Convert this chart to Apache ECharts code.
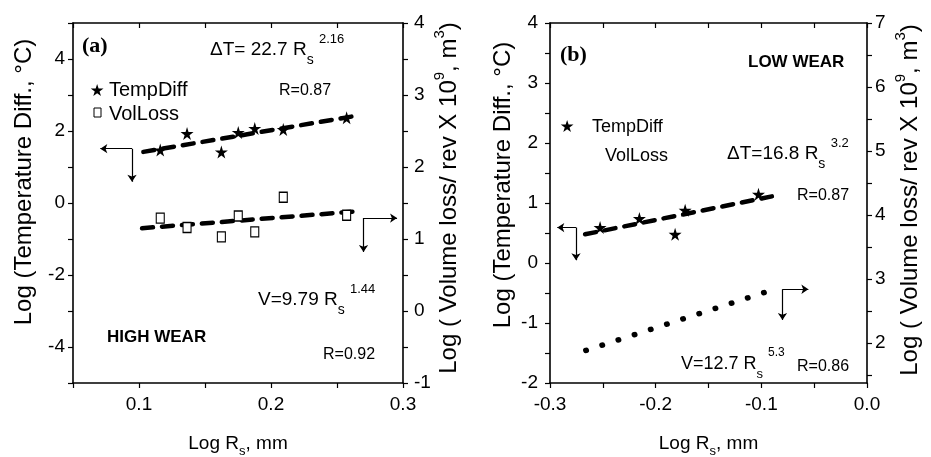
<!DOCTYPE html>
<html><head><meta charset="utf-8">
<script src="https://cdn.jsdelivr.net/npm/echarts@6/dist/echarts.min.js"></script>
<style>html,body{margin:0;padding:0;background:#fff}#c{width:931px;height:457px}</style>
</head><body><div id="c"></div>
<script>
// ---- panel (a): HIGH WEAR ----
const aLogRs = [0.1161, 0.1364, 0.1624, 0.1752, 0.1877, 0.2093, 0.2573];
const aTempDiff = [1.47, 1.93, 1.42, 1.96, 2.07, 2.04, 2.37];
const aVolLoss = [1.29, 1.16, 1.03, 1.32, 1.10, 1.58, 1.33];
const aTempFitX = [0.1033, 0.2675];
const aTempFitY = [1.42, 2.44];
const aVolFitX = [0.1023, 0.2626];
const aVolFitY = [1.15, 1.38];
const aTempArrow = {corner: [0.0947, 1.51], endX: 0.0707, endY: 0.59};
const aVolArrow = {corner: [0.2701, 1.29], endX: 0.2955, endY: 0.82};
// ---- panel (b): LOW WEAR ----
const bLogRs = [-0.2526, -0.2154, -0.1816, -0.1721, -0.1027];
const bTempDiff = [0.59, 0.74, 0.478, 0.878, 1.145];
const bTempFitX = [-0.2668, -0.0900];
const bTempFitY = [0.478, 1.11];
const bVolFitX = [-0.2661, -0.0971];
const bVolFitY = [1.883, 2.79];
const bTempArrow = {corner: [-0.2754, 0.59], endX: -0.2931, endY: 0.045};
const bVolArrow = {corner: [-0.08, 2.84], endX: -0.0555, endY: 2.36};
// ---- axis ticks / labels ----
const aXLabels = [0.1, 0.2, 0.3];
const bXLabels = [-0.3, -0.2, -0.1, 0.0];
const aLeftLabels = [-4, -2, 0, 2, 4];
const bRightTicks = [1.5, 2, 2.5, 3, 3.5, 4, 4.5, 5, 5.5, 6, 6.5, 7];
const bRightLabels = [2, 3, 4, 5, 6, 7];

const NARROW = "'Liberation Sans Narrow','Arial Narrow','Liberation Sans',Arial,sans-serif";
const SANS = "'Liberation Sans',Arial,sans-serif";
const SERIF = "'Liberation Serif','Times New Roman',serif";
const STAR_PTS = [[50,0],[61,35],[98,35],[68,57],[79,91],[50,70],[21,91],[32,57],[2,35],[39,35]];
const STAR = 'path://M' + STAR_PTS.map(p => p.join(',')).join(' L') + ' Z';

const chart = echarts.init(document.getElementById('c'), null, {renderer: 'canvas'});

const near = (v, arr) => arr.some(a => Math.abs(a - v) < 1e-6);
const axLine = {show: true, onZero: false, lineStyle: {color: '#000', width: 1.6}};
const tickOut = {show: true, inside: false, length: 5, lineStyle: {color: '#000', width: 1.2}};
const tickIn = {show: true, inside: true, length: 5, lineStyle: {color: '#000', width: 1.2}};
const lblStyle = {color: '#000', fontSize: 19, fontFamily: NARROW};

function xAx(grid, min, max, labels, pos) {
  const bottom = pos === 'bottom';
  return {
    type: 'value', gridIndex: grid, position: pos, min: min, max: max, interval: 0.05,
    axisLine: axLine, axisTick: bottom ? tickOut : tickIn, splitLine: {show: false},
    axisLabel: bottom ? Object.assign({margin: 12, showMinLabel: true, showMaxLabel: true,
      formatter: v => near(v, labels) ? (Math.abs(v) < 1e-9 ? '0.0' : v.toFixed(1)) : ''}, lblStyle) : {show: false},
    name: bottom ? '{m|Log R}{s|s}{m|, mm}' : '', nameLocation: 'middle', nameGap: 47,
    nameTextStyle: {rich: {
      m: {fontSize: 19, fontFamily: NARROW, color: '#000', lineHeight: 28},
      s: {fontSize: 13, fontFamily: NARROW, color: '#000', lineHeight: 13, verticalAlign: 'bottom'}
    }}
  };
}

const option = {
  animation: false,
  backgroundColor: '#fff',
  grid: [
    {left: 73, top: 23, width: 330, height: 360, containLabel: false, outerBoundsMode: 'none'},
    {left: 550, top: 23, width: 317, height: 360, containLabel: false, outerBoundsMode: 'none'}
  ],
  xAxis: [
    xAx(0, 0.05, 0.3, aXLabels, 'bottom'),
    xAx(0, 0.05, 0.3, aXLabels, 'top'),
    xAx(1, -0.3, 0, bXLabels, 'bottom'),
    xAx(1, -0.3, 0, bXLabels, 'top')
  ],
  yAxis: [
    {type: 'value', gridIndex: 0, position: 'left', min: -5, max: 5, interval: 1,
      axisLine: axLine, axisTick: tickOut, splitLine: {show: false},
      axisLabel: Object.assign({margin: 8, formatter: v => near(v, aLeftLabels) ? String(v) : ''}, lblStyle)},
    {type: 'value', gridIndex: 0, position: 'right', min: -1, max: 4, interval: 0.5,
      axisLine: axLine, axisTick: tickOut, splitLine: {show: false},
      axisLabel: Object.assign({margin: 11, formatter: v => Number.isInteger(v) ? String(v) : ''}, lblStyle)},
    {type: 'value', gridIndex: 1, position: 'left', min: -2, max: 4, interval: 0.5,
      axisLine: axLine, axisTick: tickOut, splitLine: {show: false},
      axisLabel: Object.assign({margin: 12, formatter: v => Number.isInteger(v) ? String(v) : ''}, lblStyle)},
    {type: 'value', gridIndex: 1, position: 'right', min: 1.375, max: 7,
      axisLine: axLine, splitLine: {show: false},
      axisTick: Object.assign({customValues: bRightTicks}, tickOut),
      axisLabel: Object.assign({margin: 8, customValues: bRightLabels}, lblStyle)}
  ],
  series: []
};

const zip = (xs, ys) => xs.map((x, i) => [x, ys[i]]);
const dashStyle = {color: '#000', width: 4.5, type: [11, 9], cap: 'round'};

function fitLine(xi, yi, xs, ys, style) {
  return {type: 'line', xAxisIndex: xi, yAxisIndex: yi, data: zip(xs, ys), symbol: 'none',
    lineStyle: style, silent: true, z: 2};
}
function arrow(xi, yi, a) {
  return {type: 'lines', coordinateSystem: 'cartesian2d', xAxisIndex: xi, yAxisIndex: yi,
    symbol: ['none', 'arrow'], symbolSize: 7, silent: true,
    lineStyle: {color: '#000', width: 1.2, opacity: 1, curveness: 0},
    data: [
      {coords: [a.corner, [a.endX, a.corner[1]]]},
      {coords: [a.corner, [a.corner[0], a.endY]]}
    ]};
}

option.series.push(
  fitLine(0, 0, aTempFitX, aTempFitY, dashStyle),
  fitLine(0, 1, aVolFitX, aVolFitY, dashStyle),
  {type: 'scatter', name: 'TempDiff', xAxisIndex: 0, yAxisIndex: 0, data: zip(aLogRs, aTempDiff),
    symbol: STAR, symbolSize: 13, itemStyle: {color: '#000', opacity: 1}, z: 3},
  {type: 'scatter', name: 'VolLoss', xAxisIndex: 0, yAxisIndex: 1, data: zip(aLogRs, aVolLoss),
    symbol: 'rect', symbolSize: [8, 10], itemStyle: {color: '#fff', borderColor: '#000', borderWidth: 1.2, opacity: 1}, z: 3},
  arrow(0, 0, aTempArrow),
  arrow(0, 1, aVolArrow),
  fitLine(2, 2, bTempFitX, bTempFitY, dashStyle),
  fitLine(2, 3, bVolFitX, bVolFitY, {color: '#000', width: 5.5, type: [0.5, 16.5], cap: 'round'}),
  {type: 'scatter', name: 'TempDiff', xAxisIndex: 2, yAxisIndex: 2, data: zip(bLogRs, bTempDiff),
    symbol: STAR, symbolSize: 13, itemStyle: {color: '#000', opacity: 1}, z: 3},
  arrow(2, 2, bTempArrow),
  arrow(2, 3, bVolArrow)
);

function eq(size, sub, sup) {
  return {
    m: {fontSize: size, fontFamily: NARROW, color: '#000', lineHeight: 34},
    s: {fontSize: sub, fontFamily: NARROW, color: '#000', lineHeight: sub, verticalAlign: 'bottom'},
    p: {fontSize: sup, fontFamily: NARROW, color: '#000', lineHeight: sup, verticalAlign: 'top'}
  };
}
function txt(x, y, text, font, extra) {
  return Object.assign({type: 'text', x: x, y: y, silent: true,
    style: Object.assign({text: text, fill: '#000', align: 'left', verticalAlign: 'middle'}, font)}, extra || {});
}
function starIcon(cx, cy, w, h) {
  return {type: 'polygon', silent: true,
    shape: {points: STAR_PTS.map(p => [cx - w / 2 + p[0] / 98 * w, cy - h / 2 + p[1] / 91 * h])},
    style: {fill: '#000'}};
}
const titleRich = {
  m: {fontSize: 24, fontFamily: SANS, color: '#000', lineHeight: 33},
  p: {fontSize: 15, fontFamily: SANS, color: '#000', lineHeight: 15, verticalAlign: 'top'}
};
function vtitle(x, y, text) {
  return {type: 'text', x: x, y: y, rotation: Math.PI / 2, silent: true,
    style: {text: text, rich: titleRich, align: 'center', verticalAlign: 'middle', fill: '#000'}};
}

option.graphic = [
  // panel a
  txt(82, 46, '(a)', {font: 'bold 22px ' + SERIF}),
  txt(210, 50, '{m|\u0394T= 22.7 R}{s|s}{m| }{p|2.16}', {rich: eq(19, 14, 13)}),
  starIcon(97, 90, 13, 12),
  txt(109, 90, 'TempDiff', {font: '20px ' + SANS}),
  {type: 'rect', silent: true, shape: {x: 94, y: 108, width: 7, height: 9}, style: {fill: '#fff', stroke: '#000', lineWidth: 1}},
  txt(109, 114, 'VolLoss', {font: '20px ' + SANS}),
  txt(279, 91, 'R=0.87', {font: '16px ' + SANS}),
  txt(258, 300, '{m|V=9.79 R}{s|s}{m| }{p|1.44}', {rich: eq(19, 14, 13)}),
  txt(107, 337, 'HIGH WEAR', {font: 'bold 17px ' + SANS}),
  txt(323, 355, 'R=0.92', {font: '16px ' + SANS}),
  // panel b
  txt(560, 55, '(b)', {font: 'bold 22px ' + SERIF}),
  txt(748, 62, 'LOW WEAR', {font: 'bold 17px ' + SANS}),
  starIcon(567, 126, 13, 12),
  txt(592, 127, 'TempDiff', {font: '18px ' + SANS}),
  txt(605, 156, 'VolLoss', {font: '18px ' + NARROW}),
  txt(727, 154, '{m|\u0394T=16.8 R}{s|s}{m| }{p|3.2}', {rich: eq(19, 14, 13)}),
  txt(797, 196, 'R=0.87', {font: '16px ' + SANS}),
  txt(681, 364, '{m|V=12.7 R}{s|s}{m| }{p|5.3}', {rich: eq(18, 13, 12)}),
  txt(797, 367, 'R=0.86', {font: '16px ' + SANS}),
  // axis titles
  vtitle(24, 182, '{m|Log (Temperature Diff., \u00B0C)}'),
  vtitle(449, 198, '{m|Log ( Volume loss/ rev X 10}{p|9}{m|, m}{p|3}{m|)}'),
  vtitle(503, 185, '{m|Log (Temperature Diff., \u00B0C)}'),
  vtitle(910, 200, '{m|Log ( Volume loss/ rev X 10}{p|9}{m|, m}{p|3}{m|)}')
];

chart.setOption(option);
</script></body></html>
